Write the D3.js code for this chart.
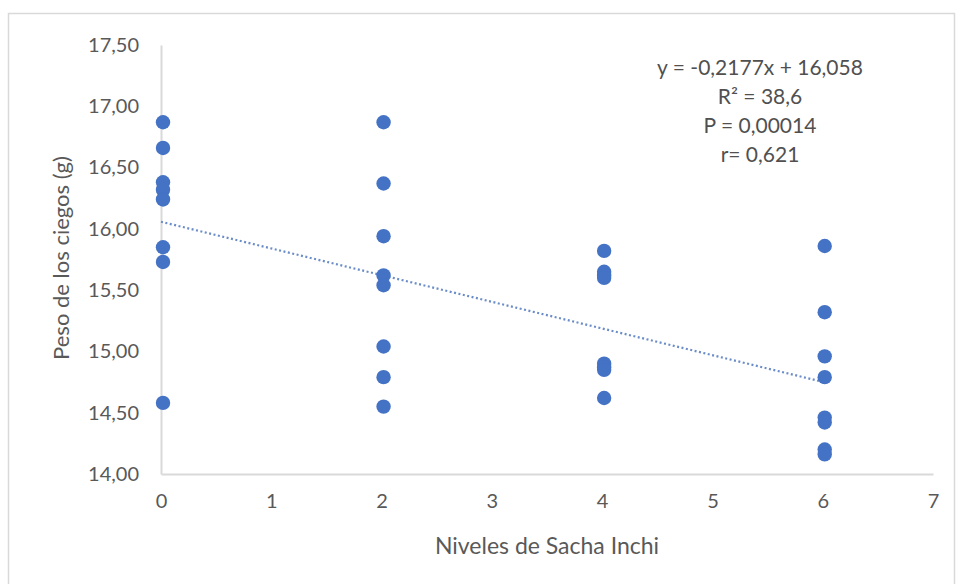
<!DOCTYPE html>
<html>
<head>
<meta charset="utf-8">
<script src="https://cdn.jsdelivr.net/npm/d3@7"></script>
<style>
  html, body { margin: 0; padding: 0; background: #fff; }
  svg { display: block; font-family: Lato, "Open Sans", sans-serif; }
</style>
</head>
<body>
<svg id="chart" width="958" height="584"></svg>
<script>
// Sacha Inchi levels (x) and caecum weight in grams (y), one entry per bird
const niveles = [0, 2, 4, 6];
const pesosNivel0 = [16.87, 16.66, 16.38, 16.32, 16.24, 15.85, 15.73, 14.58];
const pesosNivel2 = [16.87, 16.37, 15.94, 15.62, 15.54, 15.04, 14.79, 14.55];
const pesosNivel4 = [15.82, 15.65, 15.62, 15.60, 14.90, 14.87, 14.85, 14.62];
const pesosNivel6 = [15.86, 15.32, 14.96, 14.79, 14.46, 14.42, 14.20, 14.16];

// Linear trend line as reported
const pendiente = -0.2177;
const intercepto = 16.058;
const etiquetasAjuste = ["y = -0,2177x + 16,058", "R² = 38,6", "P = 0,00014", "r= 0,621"];

const xTicks = [0, 1, 2, 3, 4, 5, 6, 7];
const yTicks = [14, 14.5, 15, 15.5, 16, 16.5, 17, 17.5];

const puntos = [pesosNivel0, pesosNivel2, pesosNivel4, pesosNivel6]
  .flatMap((serie, i) => serie.map(v => ({ x: niveles[i], y: v })));

const svg = d3.select("#chart");

// chart frame
svg.append("rect")
  .attr("x", 8.5).attr("y", 13.5)
  .attr("width", 946).attr("height", 600)
  .attr("fill", "#fff").attr("stroke", "#d9d9d9").attr("stroke-width", 1.5);

const x = d3.scaleLinear().domain([0, 7]).range([161, 933]);
const y = d3.scaleLinear().domain([14, 17.5]).range([474, 45]);

const fmt = d => d3.format(".2f")(d).replace(".", ",");

// y axis
const yAxis = svg.append("g").attr("transform", `translate(${x(0)},0)`)
  .call(d3.axisLeft(y).tickValues(yTicks).tickFormat(fmt).tickSize(0).tickPadding(22));
yAxis.select(".domain").attr("stroke", "#d9d9d9").attr("stroke-width", 2);
yAxis.selectAll("text").attr("fill", "#595959").attr("font-size", 20).attr("font-family", "Lato, sans-serif");

// x axis
const xAxis = svg.append("g").attr("transform", `translate(0,${y(14)})`)
  .call(d3.axisBottom(x).tickValues(xTicks).tickFormat(d3.format("d")).tickSize(0).tickPadding(20));
xAxis.select(".domain").attr("stroke", "#d9d9d9").attr("stroke-width", 2);
xAxis.selectAll("text").attr("fill", "#595959").attr("font-size", 20).attr("font-family", "Lato, sans-serif");

// trend line across the observed range
svg.append("line")
  .attr("x1", x(0)).attr("y1", y(intercepto))
  .attr("x2", x(6)).attr("y2", y(intercepto + pendiente * 6))
  .attr("stroke", "#6a8cc8").attr("stroke-width", 2.2)
  .attr("stroke-dasharray", "2,2.5");

// data points
svg.append("g").selectAll("circle").data(puntos).join("circle")
  .attr("cx", d => x(d.x) + 2)
  .attr("cy", d => y(d.y))
  .attr("r", 7.2)
  .attr("fill", "#4472c4");

// fitted equation block
svg.append("g").selectAll("text").data(etiquetasAjuste).join("text")
  .attr("x", 760)
  .attr("y", (d, i) => 75 + i * 29)
  .attr("text-anchor", "middle")
  .attr("fill", "#505050")
  .attr("font-size", 21)
  .text(d => d);

// axis titles
svg.append("text")
  .attr("x", 547).attr("y", 554)
  .attr("text-anchor", "middle")
  .attr("fill", "#595959").attr("font-size", 23)
  .text("Niveles de Sacha Inchi");

svg.append("text")
  .attr("transform", "translate(69,258) rotate(-90)")
  .attr("text-anchor", "middle")
  .attr("fill", "#595959").attr("font-size", 22)
  .text("Peso de los ciegos (g)");
</script>
</body>
</html>
